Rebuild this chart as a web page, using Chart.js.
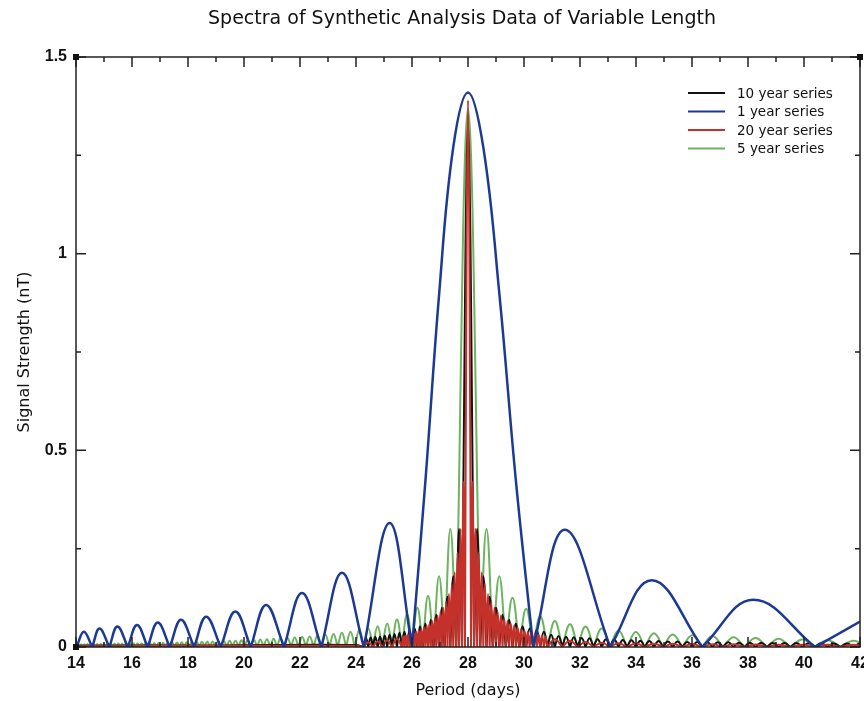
<!DOCTYPE html>
<html>
<head>
<meta charset="utf-8">
<script src="https://cdn.jsdelivr.net/npm/chart.js@4.4.1/dist/chart.umd.min.js"></script>
<style>html,body{margin:0;padding:0;background:#fff}</style>
</head>
<body>
<canvas id="spectra" width="864" height="701"></canvas>
<script>
// Values. Each series is given as the periods where the
// spectrum touches zero and the tops (and shoulders) of its lobes.

const seriesNames = ['10 year series', '1 year series', '20 year series', '5 year series'];

// 1 year series (blue): wide sinc lobes
const blueZeros = [14.02, 14.58, 15.19, 15.85, 16.56, 17.35, 18.22, 19.17, 20.24, 21.43,
  22.76, 24.28, 26.0, 30.33, 33.08, 36.37, 40.4];
const bluePeakAt = [14.0, 14.28, 14.84, 15.48, 16.18, 16.92, 17.75, 18.65, 19.69, 20.79,
  22.07, 23.5, 25.2,
  26.48, 26.97, 27.47, 28.0, 28.55, 29.12, 29.71,
  31.46, 34.56, 38.19, 43.0];
const bluePeak = [0.008, 0.039, 0.047, 0.052, 0.056, 0.062, 0.069, 0.077, 0.090, 0.107,
  0.137, 0.189, 0.315,
  0.423, 0.898, 1.269, 1.41, 1.269, 0.898, 0.423,
  0.298, 0.17, 0.12, 0.105];

// 5 year series (green)
const greenZeros = [
  14.023, 14.131, 14.242, 14.354, 14.467, 14.583, 14.700, 14.820, 14.941, 15.064,
  15.190, 15.317, 15.446, 15.578, 15.712, 15.849, 15.987, 16.129, 16.272, 16.419,
  16.568, 16.719, 16.874, 17.031, 17.192, 17.355, 17.522, 17.691, 17.864, 18.041,
  18.221, 18.404, 18.592, 18.783, 18.978, 19.178, 19.381, 19.589, 19.802, 20.019,
  20.240, 20.467, 20.700, 20.937, 21.180, 21.428, 21.683, 21.943, 22.210, 22.484,
  22.764, 23.051, 23.346, 23.648, 23.959, 24.277, 24.604, 24.940, 25.286, 25.641,
  26.006, 26.382, 26.769, 27.167, 27.577,
  28.436, 28.886, 29.350, 29.830, 30.325, 30.837, 31.367, 31.915, 32.483, 33.071,
  33.681, 34.314, 34.971, 35.654, 36.364, 37.103, 37.873, 38.675, 39.512, 40.386,
  41.299, 42.255];
const greenPeakAt = [
  14.0, 14.077, 14.186, 14.298, 14.410, 14.525, 14.641, 14.760, 14.880, 15.002,
  15.127, 15.253, 15.381, 15.512, 15.645, 15.780, 15.918, 16.058, 16.200, 16.345,
  16.493, 16.643, 16.796, 16.952, 17.111, 17.273, 17.438, 17.606, 17.777, 17.952,
  18.131, 18.312, 18.498, 18.687, 18.880, 19.078, 19.279, 19.485, 19.695, 19.910,
  20.129, 20.353, 20.583, 20.818, 21.058, 21.304, 21.555, 21.813, 22.076, 22.347,
  22.624, 22.907, 23.198, 23.497, 23.803, 24.118, 24.440, 24.772, 25.113, 25.463,
  25.823, 26.192, 26.573, 26.966, 27.370,
  27.681, 27.787, 27.893, 28.0, 28.108, 28.217, 28.326,
  28.660, 29.117, 29.589, 30.077, 30.580, 31.101, 31.640, 32.198, 32.776, 33.375,
  33.996, 34.640, 35.310, 36.006, 36.730, 37.485, 38.270, 39.090, 39.945, 40.838, 41.770];
const greenPeak = [
  0.004, 0.0070, 0.0071, 0.0072, 0.0074, 0.0075, 0.0076, 0.0077, 0.0079, 0.0080,
  0.0082, 0.0083, 0.0085, 0.0086, 0.0088, 0.0090, 0.0091, 0.0093, 0.0095, 0.0097,
  0.0099, 0.0101, 0.0104, 0.0106, 0.0108, 0.0111, 0.0114, 0.0117, 0.0120, 0.0123,
  0.0126, 0.0130, 0.0133, 0.0137, 0.0140, 0.0146, 0.0150, 0.0156, 0.0160, 0.0170,
  0.0175, 0.0180, 0.0190, 0.0200, 0.0210, 0.0220, 0.0230, 0.0240, 0.0260, 0.0270,
  0.0290, 0.0310, 0.0330, 0.0360, 0.0390, 0.0430, 0.047, 0.053, 0.060, 0.070,
  0.083, 0.100, 0.130, 0.180, 0.300,
  0.42, 0.90, 1.25, 1.37, 1.25, 0.90, 0.42,
  0.300, 0.180, 0.125, 0.097, 0.078, 0.066, 0.058, 0.052, 0.047, 0.042,
  0.038, 0.035, 0.032, 0.030, 0.028, 0.025, 0.023, 0.021, 0.019, 0.017, 0.016];

// 10 year series (black); below 24 days it is only a thin band on the axis
const blackZeros = [
  24.277, 24.440, 24.604, 24.772, 24.940, 25.113, 25.286, 25.463, 25.640,
  25.821, 26.005, 26.192, 26.381, 26.573, 26.768, 26.966, 27.166, 27.370, 27.577, 27.787,
  28.217, 28.436, 28.660, 28.887, 29.117, 29.351, 29.589, 29.831, 30.077, 30.327, 30.581, 30.837,
  31.101, 31.367, 31.640, 31.915, 32.198, 32.483, 32.776, 33.071, 33.375, 33.681,
  33.996, 34.314, 34.640, 34.971, 35.310, 35.654, 36.006, 36.364, 36.730, 37.103,
  37.485, 37.873, 38.270, 38.675, 39.090, 39.512, 39.945, 40.386, 40.838, 41.299,
  41.770, 42.255];
const blackPeakAt = [14.0, 19.0, 24.0,
  24.358, 24.522, 24.688, 24.856, 25.026, 25.199, 25.374, 25.552,
  25.730, 25.913, 26.098, 26.286, 26.477, 26.670, 26.866, 27.065, 27.268, 27.473, 27.681,
  27.893, 27.946, 28.0, 28.054, 28.108,
  28.326, 28.548, 28.773, 29.001, 29.234, 29.470, 29.709, 29.953, 30.201, 30.453, 30.710,
  30.969, 31.233, 31.503, 31.777, 32.056, 32.340, 32.629, 32.923, 33.223, 33.528,
  33.838, 34.155, 34.477, 34.805, 35.140, 35.482, 35.830, 36.185, 36.547, 36.917,
  37.294, 37.678, 38.071, 38.472, 38.882, 39.300, 39.728, 40.165, 40.612, 41.068,
  41.534, 42.012];
const blackPeak = [0.003, 0.004, 0.005,
  0.023, 0.024, 0.026, 0.027, 0.029, 0.031, 0.033, 0.036,
  0.039, 0.043, 0.047, 0.053, 0.060, 0.069, 0.082, 0.100, 0.128, 0.180, 0.300,
  0.88, 1.2, 1.33, 1.2, 0.88,
  0.300, 0.180, 0.128, 0.100, 0.082, 0.069, 0.060, 0.053, 0.047, 0.043, 0.039,
  0.031, 0.028, 0.026, 0.025, 0.023, 0.022, 0.020, 0.020, 0.019, 0.018,
  0.017, 0.016, 0.015, 0.015, 0.014, 0.014, 0.013, 0.013, 0.012, 0.012,
  0.012, 0.011, 0.011, 0.011, 0.010, 0.010, 0.010, 0.0097, 0.0094, 0.0092,
  0.0090, 0.0088];

// 20 year series (red)
const redZeros = [24.277, 24.604, 24.940, 25.286,
  25.640, 25.730, 25.821, 25.913, 26.005, 26.098, 26.192, 26.286, 26.381, 26.477,
  26.573, 26.670, 26.768, 26.866, 26.966, 27.065, 27.166, 27.268, 27.370, 27.473,
  27.577, 27.681, 27.787, 27.893,
  28.108, 28.217, 28.326, 28.436, 28.548, 28.660, 28.773, 28.887, 29.001, 29.117,
  29.234, 29.351, 29.470, 29.589, 29.709, 29.831, 29.953, 30.077, 30.201, 30.327,
  30.453, 30.581, 30.710, 30.837,
  31.367, 31.915, 32.483, 33.071, 33.681, 34.314, 34.971, 35.654, 36.364, 37.103,
  37.873, 38.675, 39.512, 40.386, 41.299, 42.255];
const redPeakAt = [14.0, 19.0, 24.0,
  24.440, 24.772, 25.113, 25.463,
  25.685, 25.775, 25.867, 25.959, 26.051, 26.145, 26.239, 26.333, 26.429, 26.525,
  26.621, 26.719, 26.817, 26.916, 27.015, 27.115, 27.217, 27.319, 27.421, 27.525,
  27.629, 27.734, 27.840,
  27.946, 28.0, 28.054,
  28.162, 28.271, 28.381, 28.492, 28.604, 28.716, 28.830, 28.944, 29.059, 29.175,
  29.292, 29.410, 29.529, 29.649, 29.770, 29.892, 30.015, 30.139, 30.264, 30.390,
  30.517, 30.645, 30.773,
  31.101, 31.640, 32.198, 32.776, 33.375, 33.996, 34.640, 35.310, 36.006, 36.730,
  37.485, 38.270, 39.090, 39.945, 40.838, 41.770];
const redPeak = [0.002, 0.003, 0.003,
  0.012, 0.014, 0.017, 0.021,
  0.027, 0.029, 0.031, 0.033, 0.036, 0.039, 0.042, 0.046, 0.050, 0.055,
  0.060, 0.066, 0.073, 0.080, 0.090, 0.100, 0.115, 0.135, 0.160, 0.190,
  0.240, 0.300, 0.420,
  0.95, 1.39, 0.95,
  0.420, 0.300, 0.240, 0.190, 0.160, 0.135, 0.115, 0.100, 0.090, 0.080,
  0.073, 0.066, 0.060, 0.055, 0.050, 0.046, 0.042, 0.039, 0.036, 0.033,
  0.031, 0.029, 0.027,
  0.020, 0.016, 0.013, 0.011, 0.0095, 0.009, 0.0085, 0.008, 0.0075, 0.007,
  0.007, 0.0065, 0.006, 0.006, 0.0055, 0.0055];

// Merge zeros and lobe tops into one sorted point list.
// Every zero goes in twice so the spline meets it in a sharp cusp.
function lobePoints(zeros, peakAt, peak) {
  const pts = [];
  zeros.forEach(p => pts.push({ x: p, y: 0 }, { x: p, y: 0 }));
  peakAt.forEach((p, i) => pts.push({ x: p, y: peak[i] }));
  return pts.sort((a, b) => a.x - b.x);
}

const colors = { black: '#111111', blue: '#1c3a94', red: '#c4302a', green: '#6db45e' };
const font = '"DejaVu Sans", sans-serif';
const tickFont = '"Liberation Sans", sans-serif';

// Box, inward ticks, title and legend like the original plot
const framePlugin = {
  id: 'frame',
  afterDatasetsDraw(chart) {
    const { ctx, chartArea: a, scales: { x, y } } = chart;
    ctx.save();
    ctx.strokeStyle = '#222';
    ctx.lineWidth = 1.5;
    ctx.strokeRect(a.left, a.top, a.right - a.left, a.bottom - a.top);

    const major = 10, minor = 5;
    ctx.beginPath();
    x.ticks.forEach((t, i) => {
      const px = x.getPixelForValue(t.value);
      ctx.moveTo(px, a.bottom); ctx.lineTo(px, a.bottom - major);
      ctx.moveTo(px, a.top); ctx.lineTo(px, a.top + major);
      if (i < x.ticks.length - 1) {
        const mx = x.getPixelForValue((t.value + x.ticks[i + 1].value) / 2);
        ctx.moveTo(mx, a.bottom); ctx.lineTo(mx, a.bottom - minor);
        ctx.moveTo(mx, a.top); ctx.lineTo(mx, a.top + minor);
      }
    });
    y.ticks.forEach((t, i) => {
      const py = y.getPixelForValue(t.value);
      ctx.moveTo(a.left, py); ctx.lineTo(a.left + major, py);
      ctx.moveTo(a.right, py); ctx.lineTo(a.right - major, py);
      if (i < y.ticks.length - 1) {
        const my = y.getPixelForValue((t.value + y.ticks[i + 1].value) / 2);
        ctx.moveTo(a.left, my); ctx.lineTo(a.left + minor, my);
        ctx.moveTo(a.right, my); ctx.lineTo(a.right - minor, my);
      }
    });
    ctx.stroke();

    // little corner markers
    ctx.fillStyle = '#111';
    ctx.fillRect(a.left - 3, a.top - 3, 6, 6);
    ctx.fillRect(a.right - 3, a.top - 3, 6, 6);
    ctx.fillRect(a.left - 3, a.bottom - 3, 6, 6);

    // legend, top right inside the plot
    ctx.font = '13.5px ' + font;
    ctx.textBaseline = 'middle';
    ctx.textAlign = 'left';
    ctx.lineWidth = 2;
    chart.data.datasets.forEach((ds, i) => {
      const ly = 93 + i * 18.5;
      ctx.strokeStyle = ds.borderColor;
      ctx.beginPath(); ctx.moveTo(688, ly); ctx.lineTo(725, ly); ctx.stroke();
      ctx.fillStyle = '#111';
      ctx.fillText(ds.label, 737, ly + 1);
    });

    // title
    ctx.font = '19px ' + font;
    ctx.textAlign = 'center';
    ctx.fillStyle = '#111';
    ctx.fillText('Spectra of Synthetic Analysis Data of Variable Length', 462, 19);
    ctx.restore();
  }
};

new Chart(document.getElementById('spectra'), {
  type: 'line',
  data: {
    datasets: [
      { label: seriesNames[0], data: lobePoints(blackZeros, blackPeakAt, blackPeak),
        borderColor: colors.black, borderWidth: 2, order: 2 },
      { label: seriesNames[1], data: lobePoints(blueZeros, bluePeakAt, bluePeak),
        borderColor: colors.blue, borderWidth: 2.5, order: 0 },
      { label: seriesNames[2], data: lobePoints(redZeros, redPeakAt, redPeak),
        borderColor: colors.red, borderWidth: 2, order: 1 },
      { label: seriesNames[3], data: lobePoints(greenZeros, greenPeakAt, greenPeak),
        borderColor: colors.green, borderWidth: 2, order: 3 }
    ]
  },
  options: {
    responsive: false,
    animation: false,
    devicePixelRatio: 1,
    parsing: false,
    layout: { padding: { top: 57, right: 4, bottom: 0, left: 0 } },
    elements: {
      point: { radius: 0 },
      line: { tension: 0.4, borderJoinStyle: 'round', borderCapStyle: 'round', fill: false }
    },
    plugins: { legend: { display: false }, title: { display: false }, tooltip: { enabled: false } },
    scales: {
      x: {
        type: 'linear', min: 14, max: 42,
        grid: { display: false, drawTicks: false }, border: { display: false },
        ticks: { stepSize: 2, autoSkip: false, maxRotation: 0, padding: 7, color: '#111',
          font: { family: tickFont, size: 16, weight: 'bold' } },
        title: { display: true, text: 'Period (days)', color: '#111',
          font: { family: font, size: 16 }, padding: { top: 0, bottom: 1 } },
        afterFit(s) { s.height = 54; s.paddingLeft = 0; s.paddingRight = 0; }
      },
      y: {
        type: 'linear', min: 0, max: 1.5,
        grid: { display: false, drawTicks: false }, border: { display: false },
        ticks: { stepSize: 0.5, padding: 9, color: '#111',
          callback: v => String(v),
          font: { family: tickFont, size: 16, weight: 'bold' } },
        title: { display: true, text: 'Signal Strength (nT)', color: '#111',
          font: { family: font, size: 16 }, padding: { top: 15, bottom: 0 } },
        afterFit(s) { s.width = 76; s.paddingTop = 0; s.paddingBottom = 0; }
      }
    }
  },
  plugins: [framePlugin]
});
</script>
</body>
</html>
